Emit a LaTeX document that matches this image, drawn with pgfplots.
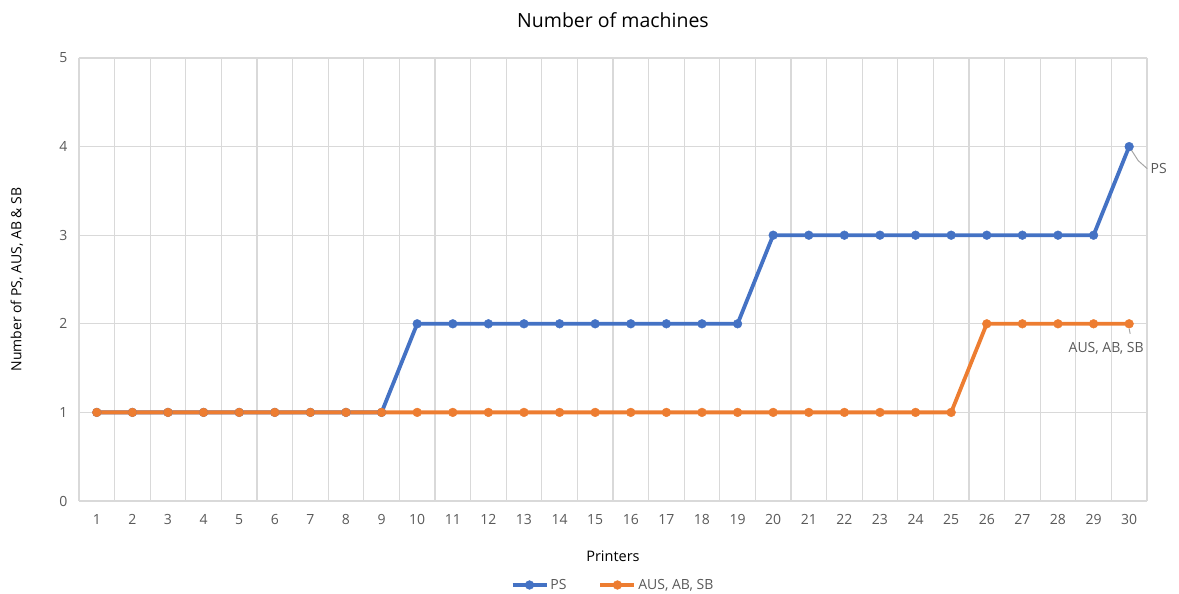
\documentclass[border=0pt]{standalone}
\usepackage{fontspec}
\setmainfont{Open Sans}
\usepackage{pgfplots}
\pgfplotsset{compat=1.18}
\definecolor{psblue}{HTML}{4472C4}
\definecolor{ausorange}{HTML}{ED7D31}
\definecolor{txtgray}{HTML}{595959}
\definecolor{gridgray}{HTML}{D9D9D9}
\definecolor{leadgray}{HTML}{A6A6A6}

\pgfplotstableread{
x ps aus
1 1 1
2 1 1
3 1 1
4 1 1
5 1 1
6 1 1
7 1 1
8 1 1
9 1 1
10 2 1
11 2 1
12 2 1
13 2 1
14 2 1
15 2 1
16 2 1
17 2 1
18 2 1
19 2 1
20 3 1
21 3 1
22 3 1
23 3 1
24 3 1
25 3 1
26 3 2
27 3 2
28 3 2
29 3 2
30 4 2
}\machines

\begin{document}
\begin{tikzpicture}
\begin{axis}[
  at={(0pt,0pt)}, anchor=south west,
  scale only axis, width=1068pt, height=443pt,
  xmin=0.5, xmax=30.5, ymin=0, ymax=5,
  xtick={1,...,30}, ytick={0,...,5},
  minor xtick={0.5,1.5,...,30.5},
  xminorgrids=true, ymajorgrids=true, xmajorgrids=false,
  grid style={gridgray, line width=1.1pt},
  minor grid style={gridgray, line width=1.1pt},
  axis x line*=bottom, axis y line*=left,
  x axis line style={gridgray, line width=1.1pt, -},
  y axis line style={draw=none},
  major tick length=0pt, minor tick length=0pt,
  tick label style={font=\fontsize{14}{16}\selectfont, text=txtgray},
  xticklabel style={yshift=-10pt},
  yticklabel style={xshift=-8pt},
  /pgf/number format/assume math mode=true,
  clip=false,
  title={Number of machines},
  title style={at={(0.5,1)}, anchor=center, yshift=32pt, font=\fontsize{19.5}{23}\selectfont, text=black},
  xlabel={Printers},
  xlabel style={at={(0.5,0)}, anchor=center, yshift=-55pt, font=\fontsize{14.5}{17}\selectfont, text=black},
  ylabel={Number of PS, AUS, AB \& SB},
  ylabel style={at={(0,0.5)}, anchor=center, yshift=62pt, font=\fontsize{14}{16}\selectfont, text=black},
  legend columns=2,
  legend style={at={(0.5,0)}, anchor=center, yshift=-84pt, draw=none, fill=none,
    font=\fontsize{14}{16}\selectfont, text=txtgray,
    /tikz/every even column/.append style={column sep=30pt}},
  legend image code/.code={
    \draw[#1, mark repeat=2, mark phase=2] plot coordinates {(0pt,0pt) (17pt,0pt) (34pt,0pt)};
  },
]
\addplot[psblue, line width=3.8pt, mark=*, mark size=4.4pt, mark options={solid, line width=0.4pt, draw=psblue, fill=psblue}] table[x=x, y=ps] {\machines};
\addlegendentry{PS}
\addplot[ausorange, line width=3.8pt, mark=*, mark size=4.4pt, mark options={solid, line width=0.4pt, draw=ausorange, fill=ausorange}] table[x=x, y=aus] {\machines};
\addlegendentry{AUS, AB, SB}

\draw[leadgray, line width=1pt] (axis cs:30,4) -- ([xshift=9pt, yshift=-14pt]axis cs:30,4) -- ([xshift=18pt, yshift=-22pt]axis cs:30,4);
\node[anchor=west, font=\fontsize{14}{16}\selectfont, text=txtgray] at ([xshift=18pt, yshift=-22pt]axis cs:30,4) {PS};
\draw[leadgray, line width=1pt] ([yshift=-5pt]axis cs:30,2) -- ([xshift=1pt, yshift=-10pt]axis cs:30,2);
\node[anchor=center, font=\fontsize{14}{16}\selectfont, text=txtgray] at ([xshift=-23pt, yshift=-25pt]axis cs:30,2) {AUS, AB, SB};
\end{axis}
\pgfresetboundingbox
\path (-79pt,-93pt) rectangle (1100pt,501pt);
\end{tikzpicture}
\end{document}
